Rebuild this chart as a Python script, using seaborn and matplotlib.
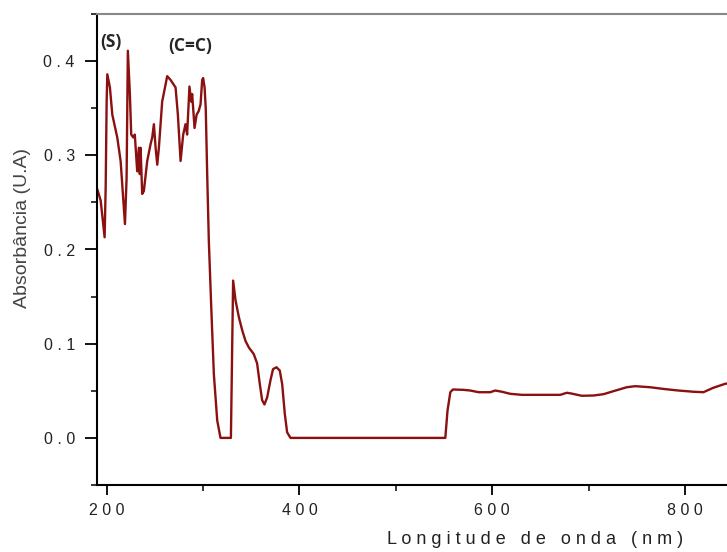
import matplotlib
matplotlib.use("Agg")
import matplotlib.pyplot as plt
import matplotlib.ticker as mticker
import numpy as np
import pandas as pd
import seaborn as sns

# wavelength (nm) and absorbance
wavelength = [
    190.3, 193.8, 197.9, 199.0, 200.0, 200.7, 203.4, 205.9, 211.0, 214.5,
    219.0, 220.7, 222.0, 224.1, 225.5, 227.6, 229.2, 231.7, 233.4, 234.4,
    235.2, 236.9, 238.6, 242.1, 245.6, 247.3, 249.0, 250.8, 252.5, 254.2,
    257.6, 261.1, 262.8, 266.3, 271.5, 273.9, 276.7, 279.4, 281.8, 283.5,
    285.9, 287.7, 288.7, 291.2, 293.3, 295.5, 297.4, 299.1, 300.1, 301.6,
    302.8, 304.3, 306.0, 308.5, 311.2, 314.7, 318.1, 328.9, 331.2, 333.7,
    337.2, 340.7, 344.0, 347.5, 352.6, 356.1, 358.9, 361.3, 363.7, 366.5,
    369.9, 372.6, 376.2, 379.6, 382.1, 384.8, 387.2, 390.7, 551.3, 553.6,
    556.5, 559.2, 570.2, 577.2, 585.8, 597.9, 603.1, 610.0, 618.7, 630.8,
    646.3, 670.5, 677.4, 682.6, 692.9, 705.0, 715.4, 725.7, 739.6, 748.2,
    763.7, 777.5, 793.0, 808.6, 819.0, 829.3, 841.5, 845.0,
]
absorbance = [
    0.264, 0.252, 0.213, 0.266, 0.357, 0.386, 0.372, 0.343, 0.319, 0.294,
    0.227, 0.276, 0.411, 0.365, 0.322, 0.319, 0.322, 0.283, 0.308, 0.280,
    0.308, 0.259, 0.262, 0.294, 0.312, 0.319, 0.333, 0.308, 0.290, 0.308,
    0.357, 0.375, 0.384, 0.380, 0.372, 0.343, 0.294, 0.322, 0.333, 0.322,
    0.373, 0.357, 0.365, 0.329, 0.343, 0.347, 0.354, 0.380, 0.382, 0.372,
    0.350, 0.280, 0.209, 0.139, 0.068, 0.0185, 0.0, 0.0, 0.167, 0.146,
    0.128, 0.114, 0.103, 0.096, 0.089, 0.079, 0.057, 0.040, 0.0355, 0.043,
    0.061, 0.073, 0.075, 0.0715, 0.057, 0.0256, 0.006, 0.0, 0.0, 0.029,
    0.0485, 0.0514, 0.051, 0.0503, 0.0485, 0.0485, 0.0503, 0.049, 0.0468, 0.0457,
    0.0457, 0.0457, 0.0479, 0.047, 0.0447, 0.045, 0.0464, 0.0496, 0.0538, 0.0549,
    0.0538, 0.052, 0.0503, 0.049, 0.0485, 0.0532, 0.0574, 0.058,
]

x_ticks = [200, 400, 600, 800]
y_ticks = [0.0, 0.1, 0.2, 0.3, 0.4]

df = pd.DataFrame({"nm": wavelength, "abs": absorbance})

sns.set_style("ticks")
plt.rcParams["font.family"] = ["Liberation Sans", "DejaVu Sans"]

fig = plt.figure(figsize=(7.27, 5.52), dpi=100)
ax = fig.add_axes([97 / 727, 1 - 485 / 552, 630 / 727, 471 / 552])

sns.lineplot(data=df, x="nm", y="abs", ax=ax, color="#8b1010", linewidth=1.7, sort=False)

ax.set_xlim(190, 843.5)
ax.set_ylim(-0.05, 0.45)

ax.set_xticks(x_ticks)
ax.set_xticklabels([" ".join(str(v)) for v in x_ticks])
ax.xaxis.set_minor_locator(mticker.MultipleLocator(100))
ax.set_yticks(y_ticks)
ax.set_yticklabels([" ".join(f"{v:.1f}") for v in y_ticks])
ax.yaxis.set_minor_locator(mticker.MultipleLocator(0.05))

ax.tick_params(axis="both", which="major", direction="out", colors="black",
               labelcolor="#222222", labelsize=11.5, width=1.3)
ax.tick_params(axis="x", which="major", length=7, pad=6)
ax.tick_params(axis="y", which="major", length=9, pad=7)
ax.tick_params(axis="x", which="minor", length=4, width=1.3)
ax.tick_params(axis="y", which="minor", length=4.5, width=1.3)

for side in ["left", "bottom"]:
    ax.spines[side].set_color("black")
    ax.spines[side].set_linewidth(1.5)
ax.spines["top"].set_visible(True)
ax.spines["top"].set_color("#888888")
ax.spines["top"].set_linewidth(1.5)
ax.spines["right"].set_visible(False)

ax.set_xlabel("   ".join(" ".join(w) for w in "Longitude de onda (nm)".split()),
              fontsize=13, color="#222222")
ax.xaxis.set_label_coords(0.695, -0.097)
ax.set_ylabel("Absorbância (U.A)", fontsize=14, color="#444444")
ax.yaxis.set_label_coords(-0.105, 0.545)

ax.text(193.2, 0.42, "(S)", fontsize=12.5, fontweight="bold", va="center",
        family=["Open Sans", "DejaVu Sans"])
ax.text(263.5, 0.416, "(C=C)", fontsize=12.5, fontweight="bold", va="center",
        family=["Open Sans", "DejaVu Sans"])

fig.savefig("out.png", dpi=100)
